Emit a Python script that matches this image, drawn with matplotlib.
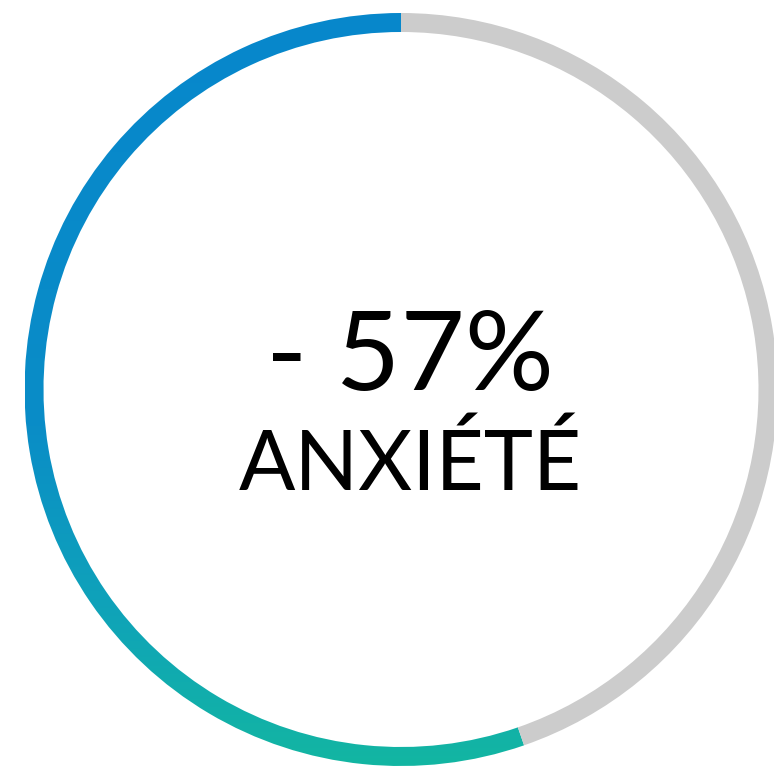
import numpy as np
import matplotlib.pyplot as plt
from matplotlib.patches import Wedge
from matplotlib.colors import LinearSegmentedColormap

# donnees
share = 0.553          # part de l'anneau coloree
big_label = '- 57%'
sub_label = 'ANXIÉTÉ'

W, H = 774, 767
cx, cy = 401, H - 389.5
r_out = 376.5
ring_w = 19

fig = plt.figure(figsize=(W / 100, H / 100), dpi=100)
ax = fig.add_axes([0, 0, 1, 1])
ax.set_xlim(0, W)
ax.set_ylim(0, H)
ax.set_aspect('equal')
ax.axis('off')

start = 90
end = start + 360 * share

# partie grise
ax.add_patch(Wedge((cx, cy), r_out, end, start + 360, width=ring_w,
                   facecolor='#cccccc', edgecolor='none'))

# partie en degrade (vertical, bleu en haut -> turquoise en bas)
cmap = LinearSegmentedColormap.from_list('grad', [
    (0.0, '#0787cc'), (0.55, '#0a8dc7'), (0.78, '#0fa2ba'), (1.0, '#13b6a2')])
grad = np.linspace(0, 1, 256).reshape(-1, 1)
arc = Wedge((cx, cy), r_out, start, end, width=ring_w,
            facecolor='none', edgecolor='none')
ax.add_patch(arc)
img = ax.imshow(grad, cmap=cmap, aspect='auto',
                extent=(cx - r_out, cx + r_out, cy - r_out, cy + r_out),
                origin='upper', interpolation='bilinear')
img.set_clip_path(arc)

ax.text(410, H - 390, big_label, ha='center', va='baseline',
        fontsize=80, family='Lato', color='black')
ax.text(410, H - 490, sub_label, ha='center', va='baseline',
        fontsize=60, family='Lato', color='black')

fig.savefig('out.png', dpi=100)
